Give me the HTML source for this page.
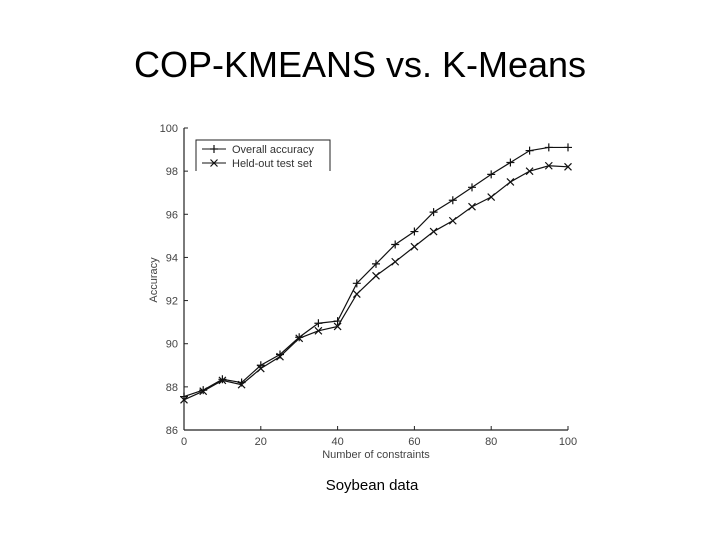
<!DOCTYPE html>
<html><head><meta charset="utf-8"><style>
body{margin:0;background:#fff;}
#wrap{position:relative;width:720px;height:540px;overflow:hidden;background:#fff;font-family:"Liberation Sans",sans-serif;}
#title{position:absolute;left:0;width:720px;top:44px;text-align:center;font-size:36px;color:#000;}
#cap{position:absolute;left:0;width:744px;top:477px;text-align:center;font-size:15px;color:#000;}
</style></head><body>
<div id="wrap">
<div id="title">COP-KMEANS vs. K-Means</div>
<svg id="chart" width="720" height="540" style="position:absolute;left:0;top:0"></svg>
<div id="cap">Soybean data</div>
</div>
<script>
const xs=[0,5,10,15,20,25,30,35,40,45,50,55,60,65,70,75,80,85,90,95,100];
const overall=[87.55,87.85,88.35,88.2,89.0,89.5,90.3,90.95,91.05,92.8,93.7,94.6,95.2,96.1,96.65,97.25,97.85,98.4,98.95,99.1,99.1];
const heldout=[87.4,87.8,88.3,88.1,88.85,89.4,90.25,90.6,90.8,92.3,93.15,93.8,94.5,95.2,95.7,96.35,96.8,97.5,98.0,98.25,98.2];
const xTicks=[0,20,40,60,80,100];
const yTicks=[86,88,90,92,94,96,98,100];
const NS="http://www.w3.org/2000/svg";
const svg=document.getElementById('chart');
const X0=184,X1=568,Y0=430,Y1=128;
const sx=v=>X0+(v-0)/(100-0)*(X1-X0);
const sy=v=>Y0-(v-86)/(100-86)*(Y0-Y1);
function mk(t,a){const e=document.createElementNS(NS,t);for(const k in a)e.setAttribute(k,a[k]);svg.appendChild(e);return e;}
let e;
e=mk('line',{x1:X0,y1:Y1,x2:X0,y2:Y0,stroke:'#222','stroke-width':1.2});


e=mk('line',{x1:X0,y1:Y0,x2:X1,y2:Y0,stroke:'#222','stroke-width':1.2});


yTicks.forEach(v=>{
 e=mk('line',{x1:X0,y1:sy(v),x2:X0+4,y2:sy(v),stroke:'#222'});
 
 
 e=mk('text',{x:X0-6,y:sy(v)+4,'text-anchor':'end','font-size':11,fill:'#444'});
 e.textContent=v;
 
 
});
xTicks.forEach(v=>{
 e=mk('line',{x1:sx(v),y1:Y0,x2:sx(v),y2:Y0-4,stroke:'#222'});
 
 
 e=mk('text',{x:sx(v),y:Y0+15,'text-anchor':'middle','font-size':11,fill:'#444'});
 e.textContent=v;
 
 
});
e=mk('text',{x:376,y:458,'text-anchor':'middle','font-size':11,fill:'#444'});
e.textContent='Number of constraints';


e=mk('text',{x:157,y:280,'text-anchor':'middle','font-size':11,fill:'#444',transform:'rotate(-90 157 280)'});
e.textContent='Accuracy';


function plus(x,y,n){const g=mk('path',{d:`M${x-4} ${y}H${x+4}M${x} ${y-4}V${y+4}`,stroke:'#111','stroke-width':1.2});}
function cross(x,y,n){const g=mk('path',{d:`M${x-3.5} ${y-3.5}L${x+3.5} ${y+3.5}M${x-3.5} ${y+3.5}L${x+3.5} ${y-3.5}`,stroke:'#111','stroke-width':1.2});}
e=mk('polyline',{points:xs.map((x,i)=>sx(x)+','+sy(overall[i])).join(' '),fill:'none',stroke:'#111','stroke-width':1.2});


e=mk('polyline',{points:xs.map((x,i)=>sx(x)+','+sy(heldout[i])).join(' '),fill:'none',stroke:'#111','stroke-width':1.2});


xs.forEach((x,i)=>{plus(sx(x),sy(overall[i]),'overall-point');cross(sx(x),sy(heldout[i]),'held-out-point');});
e=mk('path',{d:'M196 171V140H330V171',fill:'#fff',stroke:'#222','stroke-width':1});


e=mk('line',{x1:202,y1:149,x2:226,y2:149,stroke:'#111'});


plus(214,149,'legend-marker-overall');
e=mk('text',{x:232,y:153,'font-size':11,fill:'#333'});
e.textContent='Overall accuracy';


e=mk('line',{x1:202,y1:163,x2:226,y2:163,stroke:'#111'});


cross(214,163,'legend-marker-held-out');
e=mk('text',{x:232,y:167,'font-size':11,fill:'#333'});
e.textContent='Held-out test set';


</script>
</body></html>
